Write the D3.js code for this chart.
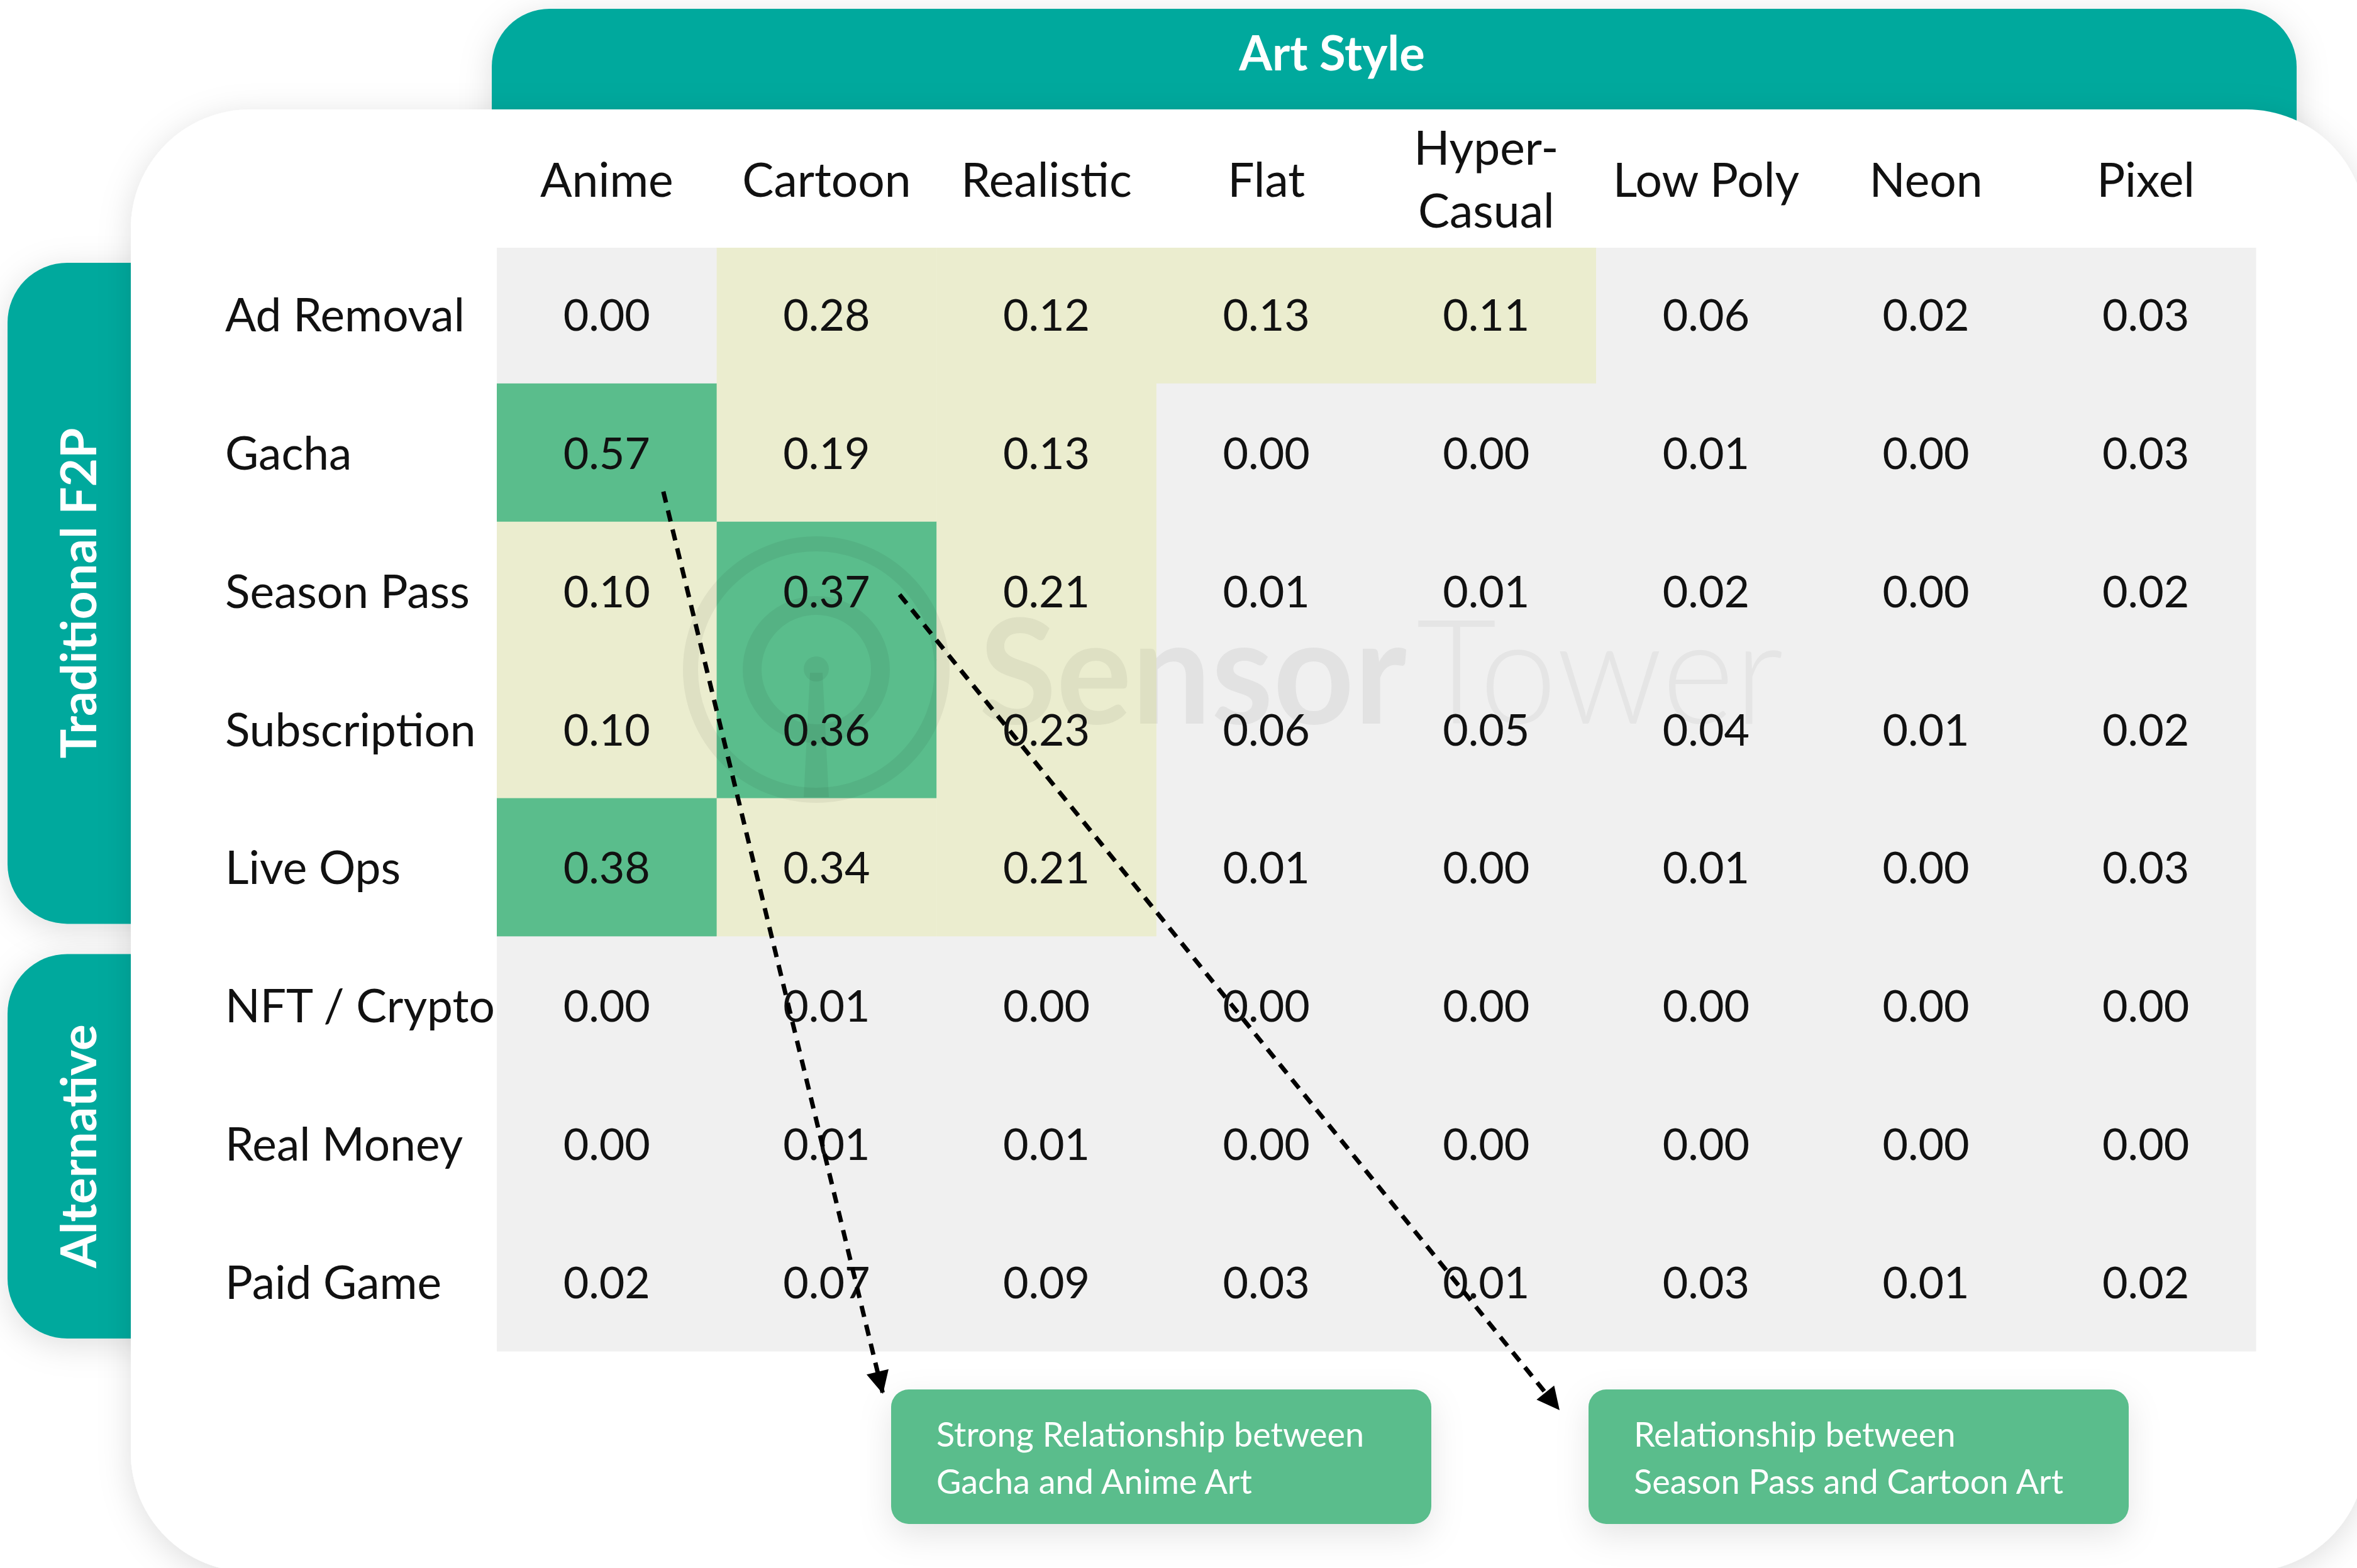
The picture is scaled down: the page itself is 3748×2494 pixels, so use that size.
<!DOCTYPE html>
<html>
<head>
<meta charset="utf-8">
<script src="https://cdn.jsdelivr.net/npm/d3@7"></script>
<style>
  html, body { margin: 0; padding: 0; background: #fff; }
  svg { display: block; font-family: Lato, "Open Sans", sans-serif; }
</style>
</head>
<body>
<div id="chart"></div>
<script>
// art styles across the top (label lines for the header)
var artStyles = ["Anime", "Cartoon", "Realistic", "Flat", "Hyper-Casual", "Low Poly", "Neon", "Pixel"];
var styleLabels = [["Anime"], ["Cartoon"], ["Realistic"], ["Flat"], ["Hyper-", "Casual"], ["Low Poly"], ["Neon"], ["Pixel"]];

// monetization models down the side
var models = ["Ad Removal", "Gacha", "Season Pass", "Subscription", "Live Ops", "NFT / Crypto", "Real Money", "Paid Game"];

// one row per model, one value per art style
var adRemoval    = [0.00, 0.28, 0.12, 0.13, 0.11, 0.06, 0.02, 0.03];
var gacha        = [0.57, 0.19, 0.13, 0.00, 0.00, 0.01, 0.00, 0.03];
var seasonPass   = [0.10, 0.37, 0.21, 0.01, 0.01, 0.02, 0.00, 0.02];
var subscription = [0.10, 0.36, 0.23, 0.06, 0.05, 0.04, 0.01, 0.02];
var liveOps      = [0.38, 0.34, 0.21, 0.01, 0.00, 0.01, 0.00, 0.03];
var nftCrypto    = [0.00, 0.01, 0.00, 0.00, 0.00, 0.00, 0.00, 0.00];
var realMoney    = [0.00, 0.01, 0.01, 0.00, 0.00, 0.00, 0.00, 0.00];
var paidGame     = [0.02, 0.07, 0.09, 0.03, 0.01, 0.03, 0.01, 0.02];
var rows = [adRemoval, gacha, seasonPass, subscription, liveOps, nftCrypto, realMoney, paidGame];

// row groups shown as side tabs
var groupNames = ["Traditional F2P", "Alternative"];
var groupFirst = ["Ad Removal", "NFT / Crypto"];
var groupLast  = ["Live Ops", "Paid Game"];

// callouts
var noteRows  = ["Gacha", "Season Pass"];
var noteCols  = ["Anime", "Cartoon"];
var noteLines = [["Strong Relationship between", "Gacha and Anime Art"],
                 ["Relationship between", "Season Pass and Cartoon Art"]];

var W = 3748, H = 2494;
var teal = "#02a99d", green = "#5abd8c";

var svg = d3.select("#chart").append("svg")
    .attr("width", W)
    .attr("height", H);

var defs = svg.append("defs");
defs.append("filter")
    .attr("id", "shadow")
    .attr("x", "-10%").attr("y", "-10%")
    .attr("width", "120%").attr("height", "120%")
    .append("feDropShadow")
    .attr("dx", 0).attr("dy", 10)
    .attr("stdDeviation", 26)
    .attr("flood-color", "#000")
    .attr("flood-opacity", 0.13);
defs.append("filter")
    .attr("id", "boxshadow")
    .attr("x", "-30%").attr("y", "-40%")
    .attr("width", "160%").attr("height", "200%")
    .append("feDropShadow")
    .attr("dx", 0).attr("dy", 18)
    .attr("stdDeviation", 26)
    .attr("flood-color", "#000")
    .attr("flood-opacity", 0.1);
defs.append("marker")
    .attr("id", "head")
    .attr("markerUnits", "userSpaceOnUse")
    .attr("viewBox", "0 0 10 10")
    .attr("markerWidth", 40)
    .attr("markerHeight", 36)
    .attr("refX", 10).attr("refY", 5)
    .attr("orient", "auto")
    .append("path")
    .attr("d", "M0,0L10,5L0,10z")
    .attr("fill", "#000");

var x = d3.scaleBand().domain(artStyles).range([790, 3587]);
var y = d3.scaleBand().domain(models).range([390, 2149]);

var color = d3.scaleThreshold()
    .domain([0.1, 0.35])
    .range(["#f0f0f0", "#ebedcf", green]);

// header tab and side tabs (behind the card)
svg.append("rect")
    .attr("x", 782).attr("y", 14)
    .attr("width", 3652 - 782).attr("height", 420)
    .attr("rx", 92)
    .attr("fill", teal)
    .attr("filter", "url(#shadow)");

svg.append("text")
    .attr("x", 2118).attr("y", 112)
    .attr("text-anchor", "middle")
    .attr("fill", "#fff")
    .attr("font-size", 76)
    .attr("font-weight", 700)
    .text("Art Style");

groupNames.forEach(function(g, i) {
    var top = y(groupFirst[i]) + 28,
        bottom = y(groupLast[i]) + y.bandwidth() - 20;
    svg.append("rect")
        .attr("x", 12).attr("y", top)
        .attr("width", 400).attr("height", bottom - top)
        .attr("rx", 95)
        .attr("fill", teal)
        .attr("filter", "url(#shadow)");
    svg.append("text")
        .attr("transform", "translate(153," + ((top + bottom) / 2) + ") rotate(-90)")
        .attr("text-anchor", "middle")
        .attr("fill", "#fff")
        .attr("font-size", 78)
        .attr("font-weight", 700)
        .text(g);
});

// white card
svg.append("rect")
    .attr("x", 208).attr("y", 174)
    .attr("width", 3762 - 208).attr("height", 2500 - 174)
    .attr("rx", 190)
    .attr("fill", "#fff")
    .attr("filter", "url(#shadow)");

// cells (the sheet starts a little below the first band)
var cells = [];
rows.forEach(function(r, i) {
    r.forEach(function(v, j) {
        cells.push({row: models[i], col: artStyles[j], value: v});
    });
});

svg.append("g").selectAll("rect")
    .data(cells)
    .enter().append("rect")
    .attr("x", function(d) { return x(d.col); })
    .attr("y", function(d) { return Math.max(y(d.row), 394); })
    .attr("width", x.bandwidth() + 0.5)
    .attr("height", function(d) { return y(d.row) + y.bandwidth() + 0.5 - Math.max(y(d.row), 394); })
    .attr("fill", function(d) { return color(d.value); });

// watermark
var wm = svg.append("g").attr("fill", "none");
wm.append("circle").attr("cx", 1298).attr("cy", 1065).attr("r", 200)
    .attr("stroke", "rgba(0,0,0,0.055)").attr("stroke-width", 24);
wm.append("circle").attr("cx", 1298).attr("cy", 1065).attr("r", 102)
    .attr("stroke", "rgba(0,0,0,0.055)").attr("stroke-width", 30);
wm.append("circle").attr("cx", 1298).attr("cy", 1064).attr("r", 20)
    .attr("fill", "rgba(0,0,0,0.055)");
wm.append("path").attr("d", "M1288,1070L1308,1070L1318,1268L1278,1268Z")
    .attr("fill", "rgba(0,0,0,0.055)");
wm.append("text").attr("x", 1557).attr("y", 1151)
    .attr("font-size", 232).attr("font-weight", 700)
    .attr("textLength", 680).attr("lengthAdjust", "spacingAndGlyphs")
    .attr("fill", "rgba(0,0,0,0.055)")
    .text("Sensor");
wm.append("text").attr("x", 2252).attr("y", 1151)
    .attr("font-size", 232).attr("font-weight", 300)
    .attr("textLength", 584).attr("lengthAdjust", "spacingAndGlyphs")
    .attr("fill", "rgba(0,0,0,0.045)")
    .text("Tower");

// values
svg.append("g").selectAll("text")
    .data(cells)
    .enter().append("text")
    .attr("x", function(d) { return x(d.col) + x.bandwidth() / 2; })
    .attr("y", function(d) { return y(d.row) + y.bandwidth() / 2 + 26; })
    .attr("text-anchor", "middle")
    .attr("font-size", 70)
    .attr("fill", "#111")
    .text(function(d) { return d3.format(".2f")(d.value); });

// column headers
var head = svg.append("g").selectAll("text")
    .data(artStyles)
    .enter().append("text")
    .attr("text-anchor", "middle")
    .attr("font-size", 75)
    .attr("fill", "#111")
    .attr("transform", function(d) { return "translate(" + (x(d) + x.bandwidth() / 2) + ",0)"; });
head.selectAll("tspan")
    .data(function(d, i) { return styleLabels[i]; })
    .enter().append("tspan")
    .attr("x", 0)
    .attr("y", function(d, k, n) { return n.length == 1 ? 313 : 262 + k * 100; })
    .text(function(d) { return d; });

// row labels
svg.append("g").selectAll("text")
    .data(models)
    .enter().append("text")
    .attr("x", 358)
    .attr("y", function(d) { return y(d) + y.bandwidth() / 2 + 27; })
    .attr("font-size", 73)
    .attr("fill", "#111")
    .text(function(d) { return d; });

// callout boxes and arrows
var boxX = [1417, 2526], boxY = 2210, boxW = 859, boxH = 214;
var startDx = [90, 116], startDy = [62, 6];
var tipX = [1404, 2480], tipY = [2217, 2243];

noteLines.forEach(function(lines, i) {
    var sx = x(noteCols[i]) + x.bandwidth() / 2 + startDx[i],
        sy = y(noteRows[i]) + y.bandwidth() / 2 + startDy[i];

    svg.append("rect")
        .attr("x", boxX[i]).attr("y", boxY)
        .attr("width", boxW).attr("height", boxH)
        .attr("rx", 28)
        .attr("fill", green)
        .attr("filter", "url(#boxshadow)");

    var t = svg.append("text")
        .attr("font-size", 54)
        .attr("fill", "#fff");
    t.selectAll("tspan")
        .data(lines)
        .enter().append("tspan")
        .attr("x", boxX[i] + 72)
        .attr("y", function(d, k) { return 2301 + k * 75; })
        .text(function(d) { return d; });

    svg.append("line")
        .attr("x1", sx).attr("y1", sy)
        .attr("x2", tipX[i]).attr("y2", tipY[i])
        .attr("stroke", "#000")
        .attr("stroke-width", 7)
        .attr("stroke-dasharray", "18,13")
        .attr("marker-end", "url(#head)");
});
</script>
</body>
</html>
